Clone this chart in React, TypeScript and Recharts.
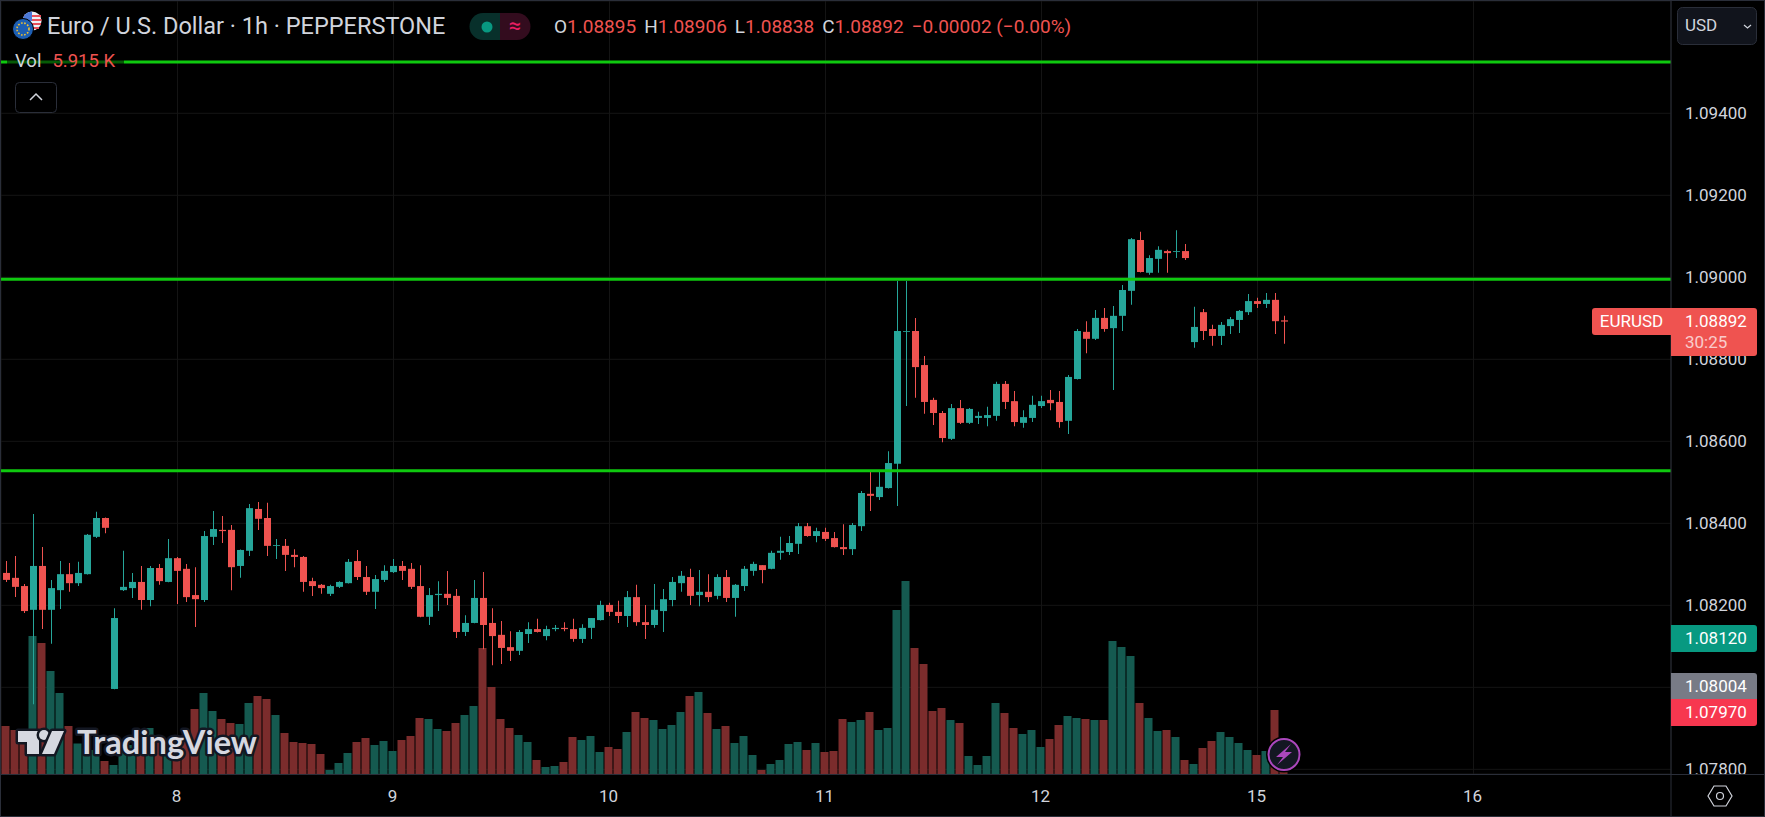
import {
  Bar,
  CartesianGrid,
  Cell,
  ComposedChart,
  ReferenceLine,
  XAxis,
  YAxis,
} from 'recharts'

const UP = '#26a69a'
const DOWN = '#ef5350'
const UP_VOL = '#155a50'
const DOWN_VOL = '#7b2c2c'
const LEVEL = '#0fc90f'
const TEXT = '#d1d4dc'
const BORDER = '#2a2e39'
const FONT = 'Roboto, sans-serif'

// EURUSD 1h
const opens = [
  1.08279, 1.08267, 1.08247, 1.08189, 1.08296, 1.08189, 1.08237, 1.08276, 1.08254, 1.08276,
  1.08367, 1.08413, 1.07996, 1.08237, 1.08242, 1.08257, 1.08213, 1.08291, 1.08257, 1.08315,
  1.08289, 1.08225, 1.08213, 1.08367, 1.08384, 1.08384, 1.08296, 1.08333, 1.08435, 1.08413,
  1.08345, 1.08345, 1.08323, 1.08318, 1.08259, 1.0825, 1.08228, 1.08245, 1.08254, 1.08308,
  1.08269, 1.08233, 1.08262, 1.08281, 1.08296, 1.08289, 1.08247, 1.08172, 1.08225, 1.08228,
  1.08223, 1.08135, 1.08157, 1.08218, 1.08157, 1.08128, 1.08098, 1.08089, 1.0813, 1.08142,
  1.08125, 1.08142, 1.08145, 1.08142, 1.08118, 1.08145, 1.08164, 1.08201, 1.08184, 1.08174,
  1.0822, 1.08159, 1.08152, 1.08186, 1.08213, 1.08254, 1.08269, 1.08225, 1.08233, 1.08223,
  1.08269, 1.08218, 1.08247, 1.08284, 1.08298, 1.08289, 1.08328, 1.0833, 1.0835, 1.08393,
  1.08369, 1.08379, 1.08364, 1.08342, 1.08337, 1.08393, 1.08472, 1.08464, 1.08486, 1.08545,
  1.08867, 1.08869, 1.08786, 1.08701, 1.08669, 1.08606, 1.08681, 1.08645, 1.08657, 1.08657,
  1.08662, 1.0874, 1.08698, 1.08645, 1.08657, 1.08686, 1.08701, 1.08696, 1.0865, 1.08752,
  1.08867, 1.0885, 1.08901, 1.08876, 1.08906, 1.08967, 1.09091, 1.09011, 1.09045, 1.09064,
  1.09062, 1.09064, 1.08842, 1.08915, 1.08874, 1.08857, 1.08881, 1.08896, 1.08915, 1.08942,
  1.08935, 1.08945, 1.08895,
]
const highs = [
  1.08308, 1.0832, 1.08252, 1.08423, 1.08342, 1.08262, 1.08308, 1.08303, 1.08306, 1.08374,
  1.08428, 1.08414, 1.08193, 1.08333, 1.08279, 1.08296, 1.08296, 1.08301, 1.08362, 1.08318,
  1.08301, 1.08293, 1.08381, 1.0843, 1.08418, 1.08396, 1.08336, 1.08447, 1.08452, 1.0845,
  1.08362, 1.08362, 1.08337, 1.0832, 1.08267, 1.08252, 1.0825, 1.08259, 1.08313, 1.08335,
  1.08296, 1.08274, 1.08298, 1.08313, 1.08308, 1.08303, 1.08298, 1.08242, 1.08259, 1.08284,
  1.0824, 1.08176, 1.08262, 1.08281, 1.08193, 1.08162, 1.08137, 1.0814, 1.08159, 1.08167,
  1.0815, 1.08152, 1.08159, 1.08167, 1.08154, 1.08169, 1.08211, 1.08206, 1.08211, 1.08235,
  1.0825, 1.08201, 1.08252, 1.0824, 1.08269, 1.08284, 1.08289, 1.08286, 1.08276, 1.08276,
  1.08286, 1.08252, 1.08296, 1.08306, 1.08298, 1.08333, 1.08367, 1.08369, 1.08401, 1.08401,
  1.08389, 1.08389, 1.08379, 1.08398, 1.08401, 1.08479, 1.08525, 1.0853, 1.08576, 1.08991,
  1.08991, 1.08901, 1.08808, 1.08706, 1.08674, 1.08691, 1.08701, 1.08681, 1.08672, 1.08684,
  1.08745, 1.08747, 1.08723, 1.08676, 1.08711, 1.08711, 1.08725, 1.08723, 1.08762, 1.08874,
  1.08893, 1.0892, 1.08925, 1.0893, 1.08981, 1.09096, 1.09111, 1.09054, 1.09076, 1.09067,
  1.09115, 1.09081, 1.08928, 1.08923, 1.08884, 1.08891, 1.08903, 1.0892, 1.08959, 1.0895,
  1.08962, 1.08962, 1.08906,
]
const lows = [
  1.08257, 1.0822, 1.08181, 1.07959, 1.08142, 1.08106, 1.08191, 1.08233, 1.08247, 1.08275,
  1.08364, 1.08376, 1.07995, 1.08235, 1.08218, 1.08189, 1.08198, 1.0825, 1.08256, 1.08203,
  1.08208, 1.08147, 1.08208, 1.08347, 1.08352, 1.08237, 1.08267, 1.0832, 1.08384, 1.0832,
  1.08313, 1.08284, 1.08293, 1.08233, 1.08223, 1.08228, 1.08223, 1.08242, 1.08253, 1.08262,
  1.08225, 1.08191, 1.08257, 1.08279, 1.08262, 1.0824, 1.08171, 1.08152, 1.08186, 1.08201,
  1.0812, 1.08125, 1.08156, 1.08093, 1.08054, 1.08057, 1.08064, 1.08079, 1.08108, 1.08134,
  1.08115, 1.08137, 1.08137, 1.08111, 1.08108, 1.08118, 1.08163, 1.08174, 1.08157, 1.08147,
  1.0815, 1.08118, 1.08145, 1.08135, 1.08198, 1.08233, 1.08201, 1.08198, 1.08208, 1.08215,
  1.08208, 1.08172, 1.08235, 1.08272, 1.08254, 1.08288, 1.08311, 1.08323, 1.08325, 1.08367,
  1.08354, 1.08357, 1.08341, 1.08323, 1.08323, 1.08381, 1.0843, 1.08457, 1.08485, 1.08442,
  1.08686, 1.08706, 1.08667, 1.0864, 1.08598, 1.08603, 1.08642, 1.08642, 1.08642, 1.08637,
  1.0865, 1.08679, 1.08637, 1.08633, 1.08647, 1.08681, 1.08676, 1.08633, 1.08618, 1.08751,
  1.08815, 1.08847, 1.08867, 1.08725, 1.08869, 1.08933, 1.09012, 1.09006, 1.09011, 1.09011,
  1.09047, 1.09042, 1.08828, 1.08847, 1.08833, 1.08835, 1.08862, 1.08864, 1.08908, 1.08925,
  1.08925, 1.08862, 1.08838,
]
const closes = [
  1.08262, 1.08245, 1.08186, 1.08296, 1.08189, 1.08242, 1.08276, 1.08254, 1.08279, 1.08372,
  1.08413, 1.08389, 1.08169, 1.08245, 1.08257, 1.08213, 1.08291, 1.08259, 1.08315, 1.08284,
  1.0822, 1.08215, 1.08369, 1.08386, 1.08381, 1.08293, 1.08335, 1.08437, 1.08411, 1.08345,
  1.08347, 1.08323, 1.08318, 1.08257, 1.08247, 1.08242, 1.08247, 1.08257, 1.08306, 1.08269,
  1.08233, 1.08264, 1.08284, 1.08296, 1.08284, 1.08245, 1.08172, 1.08225, 1.08228, 1.08218,
  1.08135, 1.08157, 1.08218, 1.08152, 1.08125, 1.08096, 1.08089, 1.08135, 1.08142, 1.08135,
  1.08142, 1.08145, 1.08142, 1.08118, 1.08145, 1.08169, 1.08201, 1.08184, 1.08174, 1.0822,
  1.08159, 1.08152, 1.08189, 1.08215, 1.08257, 1.08272, 1.08223, 1.08233, 1.0822, 1.08269,
  1.08218, 1.0825, 1.08289, 1.08301, 1.08286, 1.08328, 1.08333, 1.08352, 1.08393, 1.08369,
  1.08381, 1.08362, 1.08342, 1.08337, 1.08396, 1.08474, 1.08467, 1.08489, 1.08547, 1.08869,
  1.08869, 1.08781, 1.08696, 1.08669, 1.08608, 1.08681, 1.08645, 1.08679, 1.08662, 1.08664,
  1.0874, 1.08696, 1.08647, 1.08659, 1.08689, 1.08698, 1.08693, 1.08647, 1.08757, 1.08869,
  1.0885, 1.08901, 1.08874, 1.08906, 1.08969, 1.09093, 1.09013, 1.09047, 1.09067, 1.09059,
  1.09064, 1.09047, 1.08879, 1.08869, 1.08857, 1.08884, 1.08898, 1.08918, 1.08942, 1.08935,
  1.08945, 1.08893, 1.08892,
]
// volume in thousands
const volumes = [
  96, 88, 87, 276, 262, 206, 162, 96, 61, 51,
  48, 26, 18, 51, 58, 75, 92, 68, 48, 51,
  78, 130, 162, 126, 110, 102, 100, 142, 156, 150,
  118, 82, 64, 62, 60, 40, 8, 22, 42, 64,
  72, 58, 66, 46, 68, 76, 112, 110, 90, 86,
  102, 118, 136, 252, 174, 110, 92, 78, 64, 28,
  14, 16, 24, 74, 68, 76, 44, 54, 50, 84,
  124, 112, 108, 90, 98, 124, 156, 164, 122, 90,
  96, 62, 76, 38, 8, 20, 28, 60, 64, 48,
  62, 44, 46, 110, 104, 108, 124, 88, 92, 328,
  386, 252, 220, 126, 132, 108, 102, 36, 18, 36,
  142, 122, 92, 80, 88, 54, 70, 98, 116, 112,
  110, 108, 108, 266, 254, 236, 142, 112, 86, 88,
  74, 28, 20, 52, 66, 84, 74, 62, 48, 38,
  46, 128, 5.915,
]

const priceTicks = [1.078, 1.08, 1.082, 1.084, 1.086, 1.088, 1.09, 1.092, 1.094]
const dayTicks = [19, 43, 67, 91, 115, 139, 163]
const dayLabels = ['8', '9', '10', '11', '12', '15', '16']
const levels = [1.09525, 1.08995, 1.08528]

const rows = opens.map((open, i) => ({
  i,
  up: closes[i] >= open,
  volume: volumes[i],
  wick: [lows[i], highs[i]],
  body: [Math.min(open, closes[i]), Math.max(open, closes[i])],
}))

function Label({ top, height, bg, radius, children }: any) {
  return (
    <div
      style={{
        position: 'absolute',
        left: 1671,
        width: 86,
        top,
        height,
        background: bg,
        borderRadius: radius,
        color: '#fff',
        font: `17px ${FONT}`,
        paddingLeft: 14,
        boxSizing: 'border-box',
        lineHeight: '26px',
      }}
    >
      {children}
    </div>
  )
}

function Overlay() {
  return (
    <svg
      width={1765}
      height={817}
      style={{ position: 'absolute', left: 0, top: 0, pointerEvents: 'none' }}
    >
      {/* symbol flags */}
      <circle cx={32} cy={21} r={9.5} fill="#eef0f5" />
      <path d="M24 16 H41 M23 20 H41.5 M23 24 H41 M25 28 H39" stroke="#e8505b" strokeWidth={2} />
      <path d="M22.5 21 a9.5 9.5 0 0 1 9.5 -9.5 v9.5 z" fill="#4a79d8" />
      <circle cx={23} cy={29} r={10.5} fill="#1d5fb4" stroke="#000" strokeWidth={1} />
      <circle cx={23} cy={29} r={6} fill="none" stroke="#f2c230" strokeWidth={1.6} strokeDasharray="1.6 1.6" />

      {/* status pill */}
      <path d="M500 13 h-17 a13 13 0 0 0 0 27 h17 z" fill="#08302b" />
      <path d="M500 13 h17 a13 13 0 0 1 0 27 h-17 z" fill="#330c1e" />
      <circle cx={487} cy={27} r={5.5} fill="#089981" />
      <text x={515} y={33} textAnchor="middle" fill="#e91e63" fontFamily={FONT} fontSize={22}>
        ≈
      </text>

      {/* watermark */}
      <g fill="#d6d8e0" stroke="#131722" strokeWidth={5} paintOrder="stroke" strokeLinejoin="round">
        <path d="M18 731 H39 V754 H27 V742 H18 Z" />
        <circle cx={44} cy={735} r={5} />
        <path d="M52 731 H64 L54 754 H42 Z" />
        <text
          x={77}
          y={754}
          fontFamily="Lato, sans-serif"
          fontWeight={700}
          fontSize={33}
          textLength={180}
          lengthAdjust="spacingAndGlyphs"
        >
          TradingView
        </text>
      </g>

      {/* bolt badge */}
      <circle cx={1284} cy={754.5} r={18} fill="#000" />
      <circle cx={1284} cy={754.5} r={15.5} fill="#131722" stroke="#ab47bc" strokeWidth={2} />
      <path d="M1291 744 L1276 757 H1283 L1277 765 L1292 752 H1285 Z" fill="#ab47bc" />

      {/* collapse chevron */}
      <rect x={15.5} y={82.5} width={41} height={30} rx={4} fill="#000" stroke={BORDER} />
      <path d="M30 100 L36 94 L42 100" fill="none" stroke={TEXT} strokeWidth={1.5} />

      {/* currency button */}
      <rect x={1677.5} y={7.5} width={79} height={37} rx={5} fill="#11141c" stroke={BORDER} />
      <path d="M1744 25 L1747.5 28 L1751 25" fill="none" stroke={TEXT} strokeWidth={1.2} />
      <text x={1685} y={31} fill={TEXT} fontFamily={FONT} fontSize={17}>
        USD
      </text>

      {/* pane frame */}
      <path d={`M1671 0 V817 M0 774.5 H1765`} stroke={BORDER} fill="none" />
      <rect x={0.5} y={0.5} width={1764} height={816} fill="none" stroke={BORDER} />

      {/* settings hexagon */}
      <path
        d="M1708 796 L1714 786 H1726 L1732 796 L1726 806 H1714 Z"
        fill="none"
        stroke={TEXT}
        strokeWidth={1.2}
      />
      <circle cx={1720} cy={796} r={3.5} fill="none" stroke={TEXT} strokeWidth={1.2} />
    </svg>
  )
}

function Legend() {
  const label: any = { color: TEXT }
  const value: any = { color: DOWN, marginRight: 8 }
  return (
    <>
      <div
        style={{
          position: 'absolute',
          left: 47,
          top: 13,
          color: TEXT,
          font: `23.5px/26px ${FONT}`,
          whiteSpace: 'nowrap',
        }}
      >
        Euro / U.S. Dollar · 1h · PEPPERSTONE
      </div>
      <div
        style={{
          position: 'absolute',
          left: 554,
          top: 15,
          font: `19px/24px ${FONT}`,
          whiteSpace: 'nowrap',
        }}
      >
        <span style={label}>O</span>
        <span style={value}>1.08895</span>
        <span style={label}>H</span>
        <span style={value}>1.08906</span>
        <span style={label}>L</span>
        <span style={value}>1.08838</span>
        <span style={label}>C</span>
        <span style={value}>1.08892</span>
        <span style={{ color: DOWN }}>−0.00002 (−0.00%)</span>
      </div>
      <div
        style={{
          position: 'absolute',
          left: 7,
          top: 50,
          width: 117,
          height: 24,
          background: 'rgba(0,0,0,0.55)',
        }}
      />
      <div
        style={{
          position: 'absolute',
          left: 15,
          top: 49,
          font: `18.5px/24px ${FONT}`,
          whiteSpace: 'nowrap',
        }}
      >
        <span style={{ color: TEXT, marginRight: 11 }}>Vol</span>
        <span style={{ color: DOWN }}>5.915 K</span>
      </div>
    </>
  )
}

export default function App() {
  return (
    <div
      style={{
        position: 'fixed',
        left: 0,
        top: 0,
        width: 1765,
        height: 817,
        background: '#000',
        overflow: 'hidden',
      }}
    >
      <ComposedChart
        width={1765}
        height={817}
        data={rows}
        margin={{ top: 1, right: 0, bottom: 0, left: 1 }}
      >
        <CartesianGrid stroke="#141414" xAxisId="body" yAxisId="price" />
        <XAxis
          xAxisId="body"
          dataKey="i"
          type="number"
          domain={[-0.61111, 184.94444]}
          allowDataOverflow
          ticks={dayTicks}
          interval={0}
          tickFormatter={(t: number) => dayLabels[dayTicks.indexOf(t)]}
          height={43}
          axisLine={false}
          tickLine={false}
          tickSize={0}
          tickMargin={16}
          tick={{ fill: TEXT, fontSize: 17, fontFamily: FONT, dx: -1 }}
        />
        <XAxis xAxisId="wick" dataKey="i" type="number" domain={[-0.61111, 184.94444]} allowDataOverflow hide />
        <XAxis xAxisId="vol" dataKey="i" type="number" domain={[-0.55556, 185]} allowDataOverflow hide />
        <YAxis
          yAxisId="price"
          orientation="right"
          width={94}
          type="number"
          domain={[1.077886, 1.096739]}
          allowDataOverflow
          ticks={priceTicks}
          interval={0}
          tickFormatter={(v: number) => v.toFixed(5)}
          axisLine={false}
          tickLine={false}
          tickSize={0}
          tickMargin={14}
          tick={{ fill: TEXT, fontSize: 17, fontFamily: FONT }}
        />
        <YAxis yAxisId="volume" type="number" domain={[0, 1546]} allowDataOverflow hide />

        <Bar dataKey="volume" xAxisId="vol" yAxisId="volume" barSize={8} isAnimationActive={false}>
          {rows.map((r) => (
            <Cell key={r.i} fill={r.up ? UP_VOL : DOWN_VOL} />
          ))}
        </Bar>
        <Bar dataKey="wick" xAxisId="wick" yAxisId="price" barSize={1} isAnimationActive={false}>
          {rows.map((r) => (
            <Cell key={r.i} fill={r.up ? UP : DOWN} />
          ))}
        </Bar>
        <Bar dataKey="body" xAxisId="body" yAxisId="price" barSize={7} isAnimationActive={false}>
          {rows.map((r) => (
            <Cell key={r.i} fill={r.up ? UP : DOWN} />
          ))}
        </Bar>
        {levels.map((y) => (
          <ReferenceLine key={y} y={y} xAxisId="body" yAxisId="price" stroke={LEVEL} strokeWidth={3} />
        ))}
      </ComposedChart>

      {/* bottom right cell hides the clipped tick */}
      <div style={{ position: 'absolute', left: 1672, top: 775, width: 93, height: 42, background: '#000' }} />

      <Overlay />
      <Legend />

      <div
        style={{
          position: 'absolute',
          left: 1592,
          top: 308,
          width: 79,
          height: 27,
          background: DOWN,
          borderRadius: '3px 0 0 3px',
          color: '#fff',
          font: `17px/27px ${FONT}`,
          textAlign: 'center',
        }}
      >
        EURUSD
      </div>
      <Label top={308} height={48} bg={DOWN} radius="0 3px 3px 0">
        1.08892
        <div style={{ lineHeight: '16px', opacity: 0.7 }}>30:25</div>
      </Label>
      <Label top={625} height={27} bg="#089981" radius="0 3px 3px 0">
        1.08120
      </Label>
      <Label top={673} height={26} bg="#787b86" radius="0 3px 0 0">
        1.08004
      </Label>
      <Label top={699} height={27} bg="#f7374f" radius="0 0 3px 0">
        1.07970
      </Label>
    </div>
  )
}
